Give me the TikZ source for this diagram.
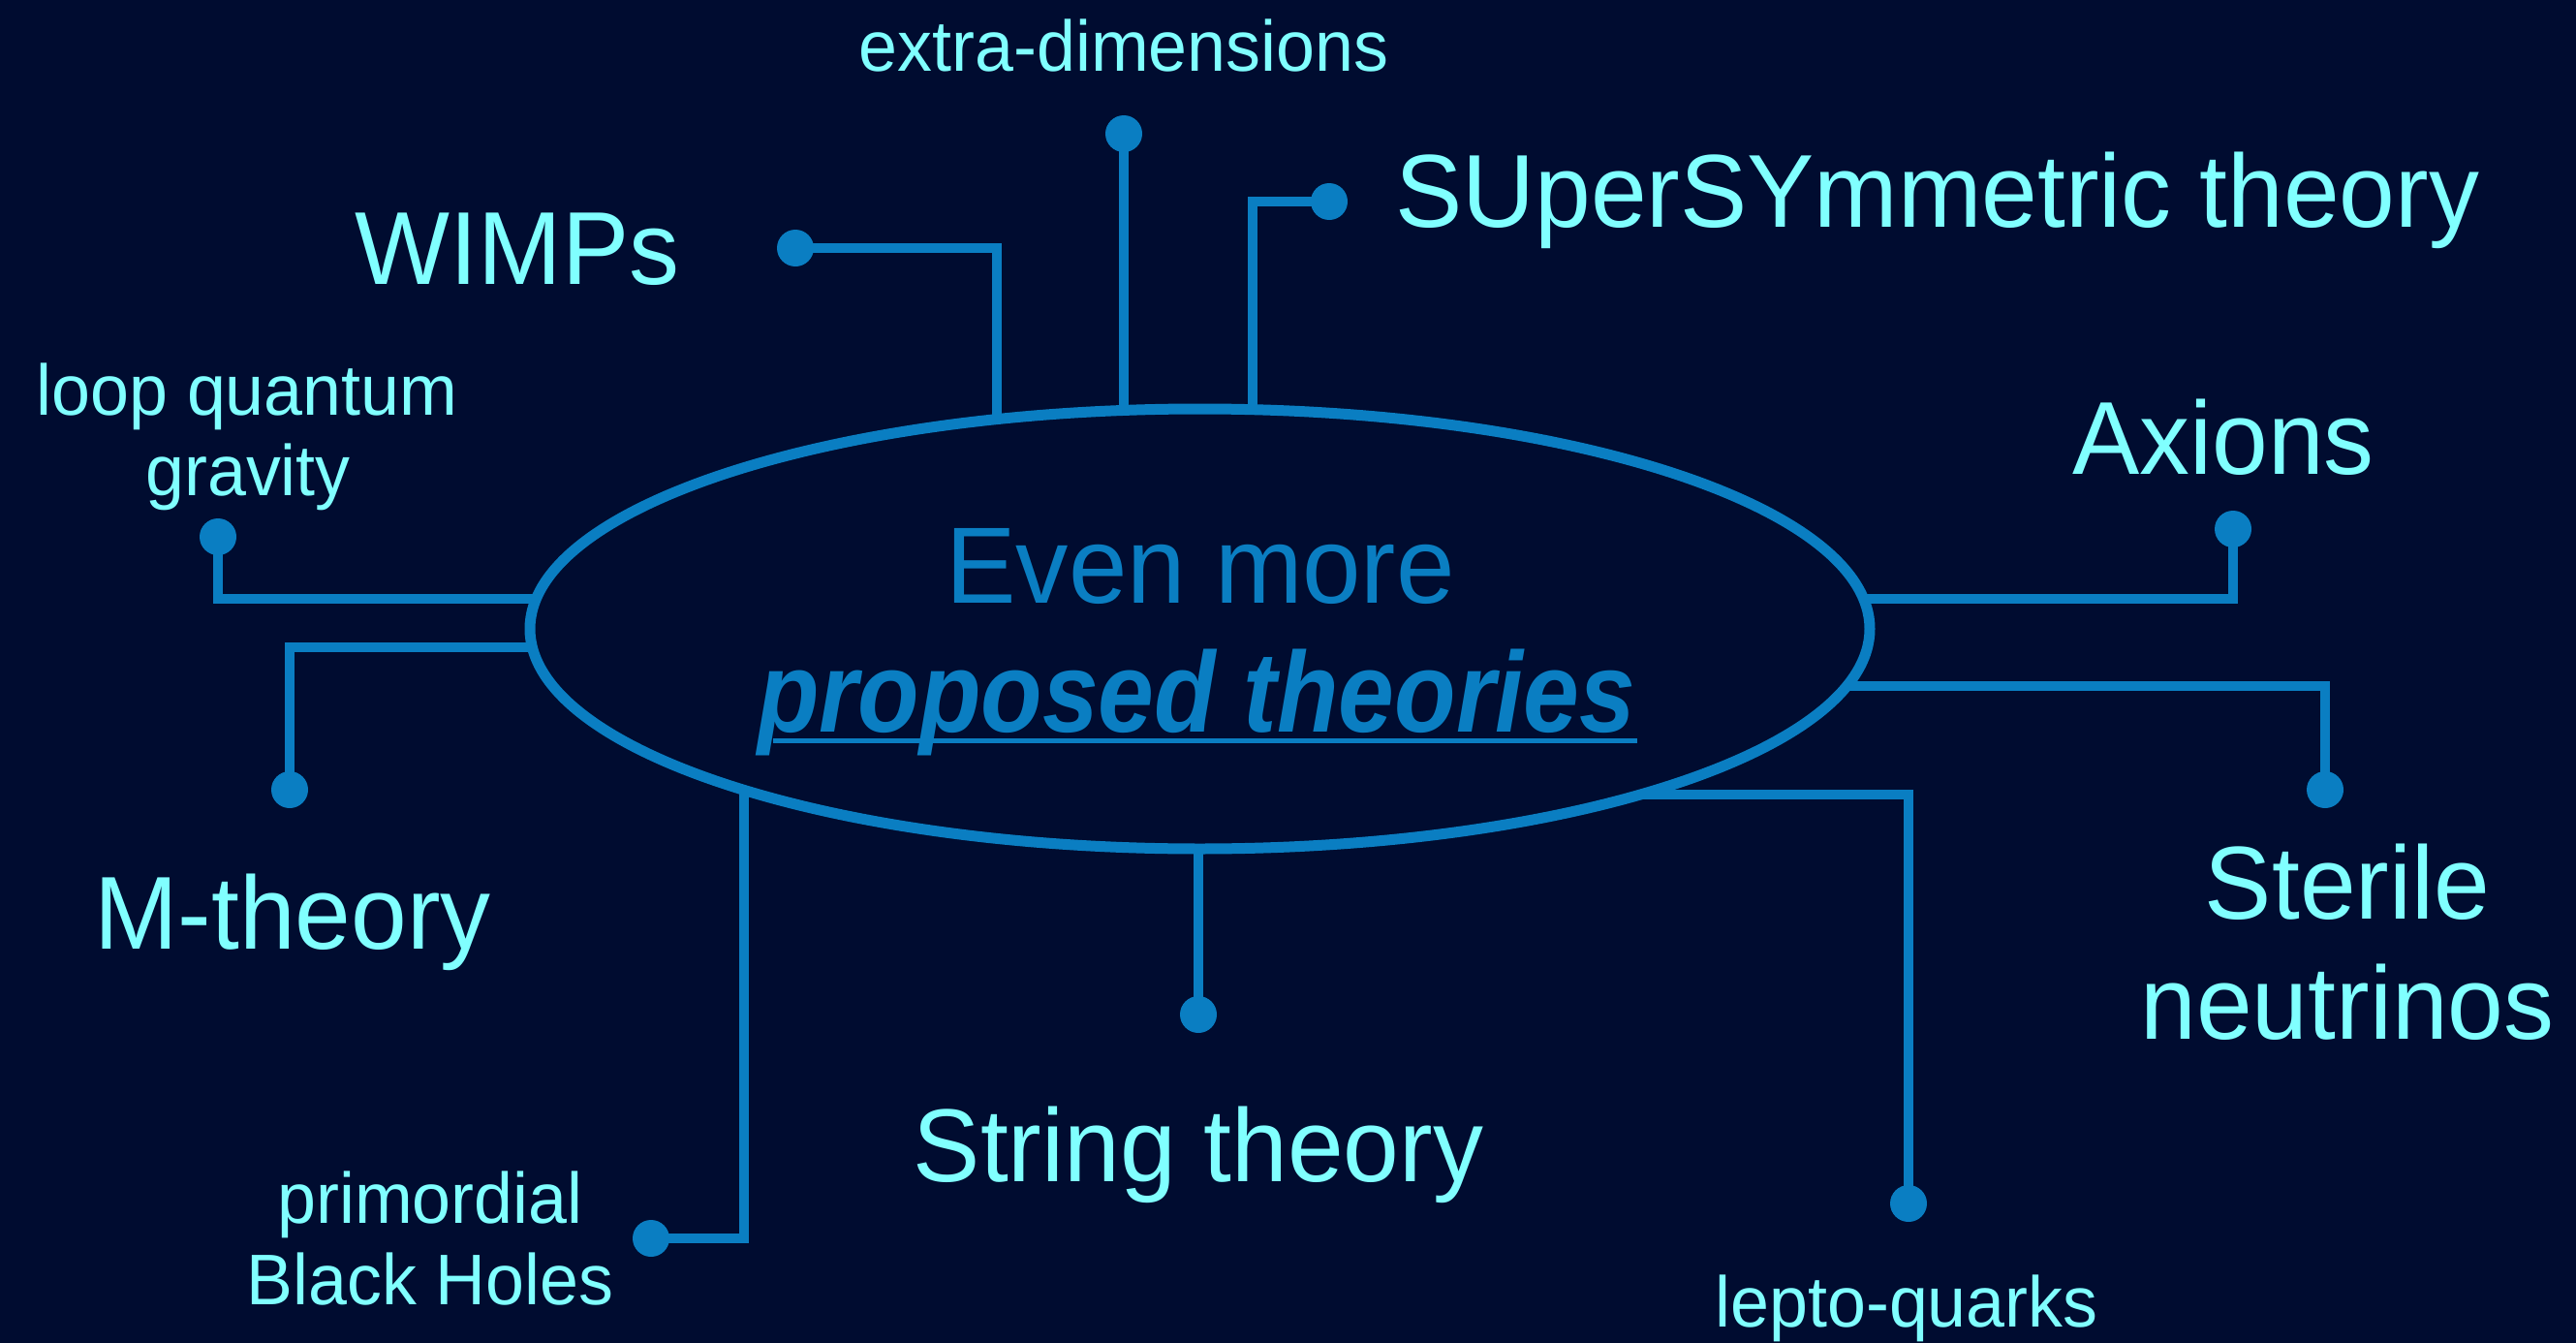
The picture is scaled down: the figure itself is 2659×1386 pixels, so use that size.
\documentclass[tikz,border=0pt]{standalone}
\usepackage{fontspec}
\setmainfont{Liberation Sans}[FakeStretch=0.97]
\newfontfamily\propfont{Liberation Sans}[FakeStretch=0.88]
\usetikzlibrary{shapes.geometric,calc}
\definecolor{bg}{HTML}{000C30}
\definecolor{wireblue}{HTML}{0A7EC2}
\definecolor{cyanlab}{HTML}{80FFFF}
\begin{document}
\begin{tikzpicture}[x=1pt,y=-1pt,
  wire/.style={draw=wireblue,line width=10.5pt},
  dot/.style={circle,fill=wireblue,minimum size=38pt,inner sep=0pt},
  big/.style={text=cyanlab,inner sep=0pt,font=\fontsize{107}{120}\selectfont},
  small/.style={text=cyanlab,inner sep=0pt,font=\fontsize{74}{84}\selectfont},
  centre/.style={text=wireblue,inner sep=0pt,anchor=base}]
\fill[bg] (0,0) rectangle (2659,1386);
\useasboundingbox (0,0) rectangle (2659,1386);

% dots
\node[dot] (exdot)   at (1160,138) {};
\node[dot] (susydot) at (1372,208) {};
\node[dot] (wimpdot) at (821,256) {};
\node[dot] (loopdot) at (225,554) {};
\node[dot] (mdot)    at (299,815) {};
\node[dot] (pbhdot)  at (672,1278) {};
\node[dot] (strdot)  at (1237,1047) {};
\node[dot] (lqdot)   at (1970,1242) {};
\node[dot] (sndot)   at (2400,815) {};
\node[dot] (axdot)   at (2305,546) {};

% inner ends (hidden under the ellipse)
\coordinate (exin)   at (1160,649);
\coordinate (susyin) at (1293,649);
\coordinate (wimpin) at (1029,649);
\coordinate (loopin) at (1238,618);
\coordinate (min)    at (1238,668);
\coordinate (pbhin)  at (768,649);
\coordinate (strin)  at (1237,649);
\coordinate (lqin)   at (1238,820);
\coordinate (snin)   at (1238,708);
\coordinate (axin)   at (1238,618);

% connectors
\draw[wire] (exdot.center) -- (exin);
\draw[wire] (susydot.center) -| (susyin);
\draw[wire] (wimpdot.center) -| (wimpin);
\draw[wire] (loopdot.center) |- (loopin);
\draw[wire] (mdot.center) |- (min);
\draw[wire] (pbhdot.center) -| (pbhin);
\draw[wire] (strdot.center) -- (strin);
\draw[wire] (lqdot.center) |- (lqin);
\draw[wire] (sndot.center) |- (snin);
\draw[wire] (axdot.center) |- (axin);

% central ellipse
\node[ellipse,draw=wireblue,line width=11pt,fill=bg,minimum width=1383pt,minimum height=454pt,inner sep=0pt] (ell) at (1238.5,649) {};
\node[centre,font=\fontsize{112}{120}\selectfont] (even) at (1239,622) {Even more};
\node[centre,font=\propfont\bfseries\itshape\fontsize{118}{120}\selectfont] (prop) at (1235,755) {proposed theories};
\draw[draw=wireblue,line width=5pt] ($(prop.base west)+(16,9)$) -- ($(prop.base east)+(2,9)$);

% labels
\node[small,anchor=base] (extra) at (1160,74) {extra-dimensions};
\node[big,anchor=base west] (susy) at (1440,234) {SUperSYmmetric theory};
\node[big,anchor=base] (wimps) at (534,293) {WIMPs};
\node[small,anchor=base] (loopa) at (255,428) {loop quantum};
\node[small,anchor=base] (loopb) at (256,511) {gravity};
\node[big,anchor=base] (mth) at (302,979) {M-theory};
\node[small,anchor=base] (pbha) at (444,1262) {primordial};
\node[small,anchor=base] (pbhb) at (444,1346) {Black Holes};
\node[big,anchor=base] (string) at (1237,1219) {String theory};
\node[small,anchor=base] (lq) at (1968,1369) {lepto-quarks};
\node[big,anchor=base] (ster) at (2423,948) {Sterile};
\node[big,anchor=base] (neut) at (2423,1072) {neutrinos};
\node[big,anchor=base west] (ax) at (2139,489) {Axions};
\end{tikzpicture}
\end{document}
